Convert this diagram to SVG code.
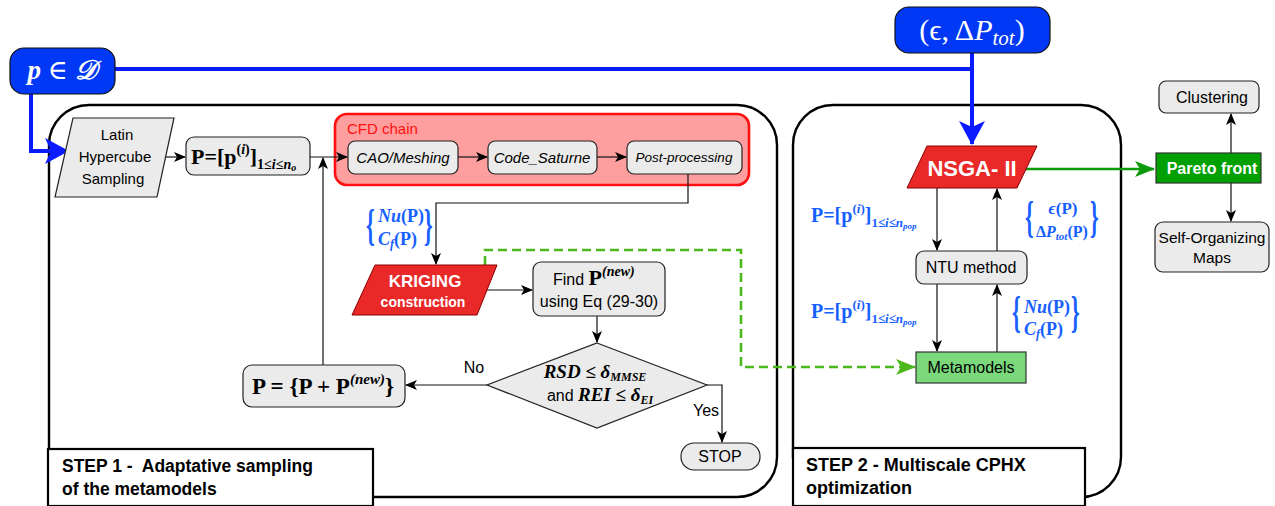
<svg xmlns="http://www.w3.org/2000/svg" width="1275" height="506" viewBox="0 0 1275 506">
<defs>
<marker id="arr" markerUnits="userSpaceOnUse" markerWidth="12" markerHeight="10" viewBox="0 0 12 10" refX="11" refY="5" orient="auto">
<path d="M0,0 L12,5 L0,10 L3,5 z" fill="#000"/>
</marker>
<marker id="arrBlue" markerUnits="userSpaceOnUse" markerWidth="24" markerHeight="26" viewBox="0 0 24 26" refX="23" refY="13" orient="auto">
<path d="M0,0 L24,13 L0,26 L6,13 z" fill="#0a1cff"/>
</marker>
<marker id="arrGreen" markerUnits="userSpaceOnUse" markerWidth="20" markerHeight="16" viewBox="0 0 20 16" refX="19" refY="8" orient="auto">
<path d="M0,0 L20,8 L0,16 L5,8 z" fill="#4cb81e"/>
</marker>
<marker id="arrDkGreen" markerUnits="userSpaceOnUse" markerWidth="20" markerHeight="16" viewBox="0 0 20 16" refX="19" refY="8" orient="auto">
<path d="M0,0 L20,8 L0,16 L5,8 z" fill="#0a9a0a"/>
</marker>
</defs>
<style>
.sans{font-family:"Liberation Sans","DejaVu Sans",sans-serif;}
.math{font-family:"Liberation Serif","DejaVu Serif",serif;}
.node{fill:#ebebeb;stroke:#222;stroke-width:1.2;}
.step{fill:none;stroke:#000;stroke-width:2.4;}
.lbl{fill:#fff;stroke:#000;stroke-width:2.2;}
.edge{fill:none;stroke:#111;stroke-width:1.2;}
.blue{fill:#0038f5;stroke:#111;stroke-width:1.2;}
.bl{fill:none;stroke:#0a1cff;stroke-width:4;}
.red{fill:#e92828;stroke:#8a0000;stroke-width:1;}
.blab{fill:#1560ff;}
</style>

<g id="step1-frame">
<rect class="step" x="49" y="105" width="728" height="392" rx="40"/>
</g>
<g id="step2-frame">
<rect class="step" x="793" y="105" width="328" height="392" rx="40"/>
</g>

<g id="node-cfd">
<rect x="335" y="114" width="414" height="71" rx="12" fill="#ff9e9e" stroke="#ff1010" stroke-width="2.6"/>
<text class="sans" x="347" y="134" font-size="15" fill="#ff1010">CFD chain</text>
</g>

<g id="connectors">
<path class="bl" d="M115,69 H972"/>
<path class="bl" d="M972,53 V144" marker-end="url(#arrBlue)"/>
<path class="bl" d="M31,94 V151 H68" marker-end="url(#arrBlue)"/>
<path class="edge" d="M161,157 H185" marker-end="url(#arr)"/>
<path class="edge" d="M310,157 H347" marker-end="url(#arr)"/>
<path class="edge" d="M323,365 V158" stroke="#444" marker-end="url(#arr)"/>
<path class="edge" d="M458,157 H487" marker-end="url(#arr)"/>
<path class="edge" d="M597,157 H626" marker-end="url(#arr)"/>
<path class="edge" d="M688,174 V203 H436 V264" marker-end="url(#arr)"/>
<path class="edge" d="M483,290 H532" marker-end="url(#arr)"/>
<path class="edge" d="M597,316 V342" marker-end="url(#arr)"/>
<path class="edge" d="M487,385 H406" marker-end="url(#arr)"/>
<path class="edge" d="M707,385 H722 V442" marker-end="url(#arr)"/>
<path d="M485,265 V250 H741 V367 H915" fill="none" stroke="#4cb81e" stroke-width="2.6" stroke-dasharray="9,5" marker-end="url(#arrGreen)"/>
<path d="M1025,169 H1154" fill="none" stroke="#0a9a0a" stroke-width="2.6" marker-end="url(#arrDkGreen)"/>
<path class="edge" d="M1231,153 V114" marker-end="url(#arr)"/>
<path class="edge" d="M1231,183 V221" marker-end="url(#arr)"/>
<path class="edge" d="M937,188 V250" marker-end="url(#arr)"/>
<path class="edge" d="M997,251 V189" marker-end="url(#arr)"/>
<path class="edge" d="M937,284 V351" marker-end="url(#arr)"/>
<path class="edge" d="M997,352 V285" marker-end="url(#arr)"/>
<text class="sans" x="474" y="373" font-size="16" text-anchor="middle">No</text>
<text class="sans" x="706" y="416" font-size="16" text-anchor="middle">Yes</text>
</g>

<g id="node-p">
<rect class="blue" x="10" y="48" width="105" height="46" rx="14"/>
<text class="math" x="62" y="79" font-size="27" fill="#fff" text-anchor="middle" font-style="italic" font-weight="bold">p <tspan font-style="normal" font-weight="normal">∈</tspan> 𝒟</text>
</g>

<g id="node-obj">
<rect class="blue" x="895" y="7" width="155" height="46" rx="14"/>
<text class="math" x="972" y="40" font-size="30" fill="#fff" text-anchor="middle">(ϵ, Δ<tspan font-style="italic">P</tspan><tspan font-style="italic" font-size="21" dy="5">tot</tspan><tspan dy="-5">)</tspan></text>
</g>

<g id="node-lhs">
<polygon class="node" points="73,118 174,118 157,197 55,197"/>
<text class="sans" font-size="15" text-anchor="middle"><tspan x="117" y="140">Latin</tspan><tspan x="115" y="162">Hypercube</tspan><tspan x="113" y="184">Sampling</tspan></text>
</g>

<g id="node-P">
<rect class="node" x="186" y="137" width="124" height="38" rx="8"/>
<text class="math" x="191" y="164" font-size="22" font-weight="bold">P=[p<tspan font-size="14" dy="-10">(<tspan font-style="italic">i</tspan>)</tspan><tspan dy="10">]</tspan><tspan font-size="14" dy="5">1≤<tspan font-style="italic">i</tspan>≤<tspan font-style="italic">n</tspan><tspan font-size="10" font-style="italic" dy="2">o</tspan></tspan></text>
</g>

<g id="node-cao">
<rect class="node" x="348" y="141" width="110" height="33" rx="7"/>
<text class="sans" x="403" y="163" font-size="15" font-style="italic" text-anchor="middle">CAO/Meshing</text>
</g>
<g id="node-code">
<rect class="node" x="488" y="141" width="109" height="33" rx="7"/>
<text class="sans" x="542" y="163" font-size="15" font-style="italic" text-anchor="middle">Code_Saturne</text>
</g>
<g id="node-post">
<rect class="node" x="627" y="141" width="115" height="33" rx="7"/>
<text class="sans" x="684" y="162" font-size="13.5" font-style="italic" text-anchor="middle">Post-processing</text>
</g>

<g id="label-nucf1" class="math blab" font-weight="bold">
<text transform="translate(366,240) scale(1,2)" font-size="22">{</text>
<text x="378" y="222" font-size="18"><tspan font-style="italic">Nu</tspan>(P)</text>
<text x="378" y="245" font-size="18"><tspan font-style="italic">C</tspan><tspan font-style="italic" font-size="12" dy="3">f</tspan><tspan dy="-3">(P)</tspan></text>
<text transform="translate(424,240) scale(1,2)" font-size="22">}</text>
</g>

<g id="node-kriging">
<polygon class="red" points="375,265 497,265 477,315 352,315"/>
<text class="sans" x="425" y="287" font-size="17" font-weight="bold" fill="#fff" text-anchor="middle">KRIGING</text>
<text class="sans" x="423" y="307" font-size="14" font-weight="bold" fill="#fff" text-anchor="middle">construction</text>
</g>

<g id="node-find">
<rect class="node" x="533" y="262" width="132" height="54" rx="8"/>
<text class="sans" x="553" y="285" font-size="16">Find <tspan class="math" font-size="22" font-weight="bold">P</tspan><tspan class="math" font-size="14" font-weight="bold" font-style="italic" dy="-9">(new)</tspan></text>
<text class="sans" x="599" y="307" font-size="16" text-anchor="middle">using Eq (29-30)</text>
</g>

<g id="node-diamond">
<polygon class="node" points="597,343 707,385 597,428 487,385"/>
<text class="math" x="595" y="378" font-size="19" font-weight="bold" font-style="italic" text-anchor="middle">RSD ≤ δ<tspan font-size="12" dy="3">MMSE</tspan></text>
<text x="600" y="401" font-size="19" text-anchor="middle"><tspan class="sans" font-size="16">and </tspan><tspan class="math" font-weight="bold" font-style="italic">REI ≤ δ<tspan font-size="12" dy="3">EI</tspan></tspan></text>
</g>

<g id="node-stop">
<rect class="node" x="681" y="443" width="79" height="27" rx="13"/>
<text class="sans" x="720" y="462" font-size="16" text-anchor="middle">STOP</text>
</g>

<g id="node-update">
<rect class="node" x="243" y="365" width="162" height="42" rx="9"/>
<text class="math" x="323" y="394" font-size="23" font-weight="bold" text-anchor="middle">P = {P + P<tspan font-size="15" font-style="italic" dy="-10">(new)</tspan><tspan dy="10">}</tspan></text>
</g>

<g id="label-step1">
<rect class="lbl" x="48" y="449" width="325" height="57"/>
<text class="sans" font-size="17.5" font-weight="bold"><tspan x="62" y="472">STEP 1 -&#160; Adaptative sampling</tspan><tspan x="62" y="495">of the metamodels</tspan></text>
</g>

<g id="node-nsga">
<polygon class="red" points="927,146 1037,146 1017,188 907,188"/>
<text class="sans" x="972" y="176" font-size="22" font-weight="bold" fill="#fff" text-anchor="middle">NSGA- II</text>
</g>

<g id="label-P1" class="math blab" font-weight="bold">
<text x="811" y="222" font-size="20">P=[p<tspan font-size="13" dy="-9">(<tspan font-style="italic">i</tspan>)</tspan><tspan dy="9">]</tspan><tspan font-size="13" dy="5">1≤<tspan font-style="italic">i</tspan>≤<tspan font-style="italic">n</tspan><tspan font-size="9" font-style="italic" dy="2">pop</tspan></tspan></text>
</g>
<g id="label-P2" class="math blab" font-weight="bold">
<text x="811" y="318" font-size="20">P=[p<tspan font-size="13" dy="-9">(<tspan font-style="italic">i</tspan>)</tspan><tspan dy="9">]</tspan><tspan font-size="13" dy="5">1≤<tspan font-style="italic">i</tspan>≤<tspan font-style="italic">n</tspan><tspan font-size="9" font-style="italic" dy="2">pop</tspan></tspan></text>
</g>

<g id="label-obj" class="math blab" font-weight="bold">
<text transform="translate(1025,232) scale(1,2)" font-size="22">{</text>
<text x="1063" y="214" font-size="17" text-anchor="middle"><tspan font-style="italic">ϵ</tspan>(P)</text>
<text x="1036" y="237" font-size="16">Δ<tspan font-style="italic">P</tspan><tspan font-style="italic" font-size="11" dy="3">tot</tspan><tspan dy="-3">(P)</tspan></text>
<text transform="translate(1090,232) scale(1,2)" font-size="22">}</text>
</g>

<g id="label-nucf2" class="math blab" font-weight="bold">
<text transform="translate(1012,327) scale(1,2)" font-size="22">{</text>
<text x="1024" y="313" font-size="18"><tspan font-style="italic">Nu</tspan>(P)</text>
<text x="1024" y="335" font-size="18"><tspan font-style="italic">C</tspan><tspan font-style="italic" font-size="12" dy="3">f</tspan><tspan dy="-3">(P)</tspan></text>
<text transform="translate(1071,327) scale(1,2)" font-size="22">}</text>
</g>

<g id="node-ntu">
<rect class="node" x="916" y="251" width="111" height="33" rx="8"/>
<text class="sans" x="971" y="273" font-size="16" text-anchor="middle">NTU method</text>
</g>

<g id="node-meta">
<rect x="916" y="352" width="110" height="31" fill="#7bd97b" stroke="#333" stroke-width="1.2"/>
<text class="sans" x="971" y="373" font-size="16" text-anchor="middle">Metamodels</text>
</g>

<g id="label-step2">
<rect class="lbl" x="793" y="448" width="292" height="58"/>
<text class="sans" font-size="18" font-weight="bold"><tspan x="806" y="471">STEP 2 - Multiscale CPHX</tspan><tspan x="806" y="494">optimization</tspan></text>
</g>

<g id="node-pareto">
<rect x="1156" y="153" width="105" height="30" fill="#00a000" stroke="#333" stroke-width="1.2"/>
<text class="sans" x="1212" y="174" font-size="16" font-weight="bold" fill="#fff" text-anchor="middle">Pareto front</text>
</g>

<g id="node-clustering">
<rect class="node" x="1159" y="81" width="100" height="32" rx="7"/>
<text class="sans" x="1212" y="103" font-size="16" text-anchor="middle">Clustering</text>
</g>

<g id="node-som">
<rect class="node" x="1155" y="222" width="114" height="50" rx="8"/>
<text class="sans" font-size="15.5" text-anchor="middle"><tspan x="1212" y="243">Self-Organizing</tspan><tspan x="1212" y="263">Maps</tspan></text>
</g>
</svg>
